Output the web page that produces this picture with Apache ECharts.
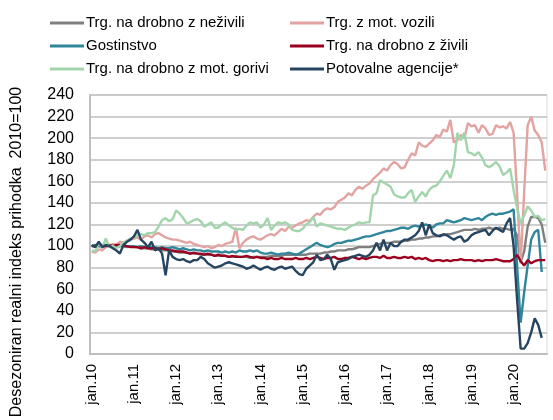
<!DOCTYPE html>
<html>
<head>
<meta charset="utf-8">
<script src="https://cdn.jsdelivr.net/npm/echarts@6/dist/echarts.min.js"></script>
<style>
  body { margin: 0; background: #fff; }
  #main { width: 553px; height: 420px; }
</style>
</head>
<body>
<div id="main"></div>
<script>
// mesecni podatki jan.2010 - okt.2020
const monthNames = ['jan', 'feb', 'mar', 'apr', 'maj', 'jun', 'jul', 'avg', 'sep', 'okt', 'nov', 'dec'];
const years = ['10', '11', '12', '13', '14', '15', '16', '17', '18', '19', '20'];

const nezivili = [
  100, 100, 100, 101, 100, 100, 100, 99, 100, 100, 99, 100,
  99, 99, 98, 98, 98, 97, 97, 97, 96, 96, 96, 95,
  95, 94, 94, 94, 93, 93, 93, 92, 92, 92, 92, 91,
  91, 91, 91, 90, 90, 91, 90, 90, 90, 89, 90, 90,
  90, 90, 90, 91, 91, 91, 91, 92, 92, 92, 92, 92,
  92, 92, 93, 93, 93, 93, 94, 94, 95, 95, 96, 96,
  96, 97, 97, 98, 99, 99, 99, 99, 100, 101, 102, 103,
  103, 103, 104, 104, 104, 105, 105, 106, 106, 107, 107, 108,
  108, 109, 109, 110, 110, 111, 111, 112, 113, 114, 115, 115,
  115, 116, 115, 116, 116, 117, 116, 116, 117, 116, 116, 115,
  116, 110, 85, 95, 118, 127, 127, 126, 120, 103
];
const vozila = [
  95, 94, 97, 96, 99, 100, 102, 101, 104, 103, 105, 106,
  107, 108, 106, 109, 110, 108, 111, 112, 110, 108, 107, 106,
  106, 105, 104, 103, 104, 102, 101, 100, 99, 100, 98, 99,
  101, 100, 102, 103, 104, 117, 98, 103, 106, 108, 109, 107,
  106, 108, 110, 111, 110, 113, 116, 114, 118, 117, 119, 121,
  122, 124, 123, 127, 130, 129, 133, 135, 134, 136, 141, 143,
  145, 149, 147, 152, 155, 153, 156, 158, 162, 165, 168, 172,
  170, 175, 178, 176, 172, 173, 180, 186, 184, 196, 193, 192,
  195, 198, 203, 201, 208, 206, 217, 196, 198, 203, 200, 214,
  211, 212, 205, 212, 209, 203, 204, 212, 210, 211, 209, 215,
  205, 148, 84, 150, 212, 220, 207, 203, 196, 170
];
const gostinstvo = [
  100, 101, 100, 99, 101, 100, 100, 99, 100, 101, 100, 100,
  100, 99, 100, 99, 100, 99, 99, 98, 99, 98, 98, 99,
  98, 97, 98, 97, 96, 97, 96, 96, 95, 96, 95, 95,
  95, 94, 95, 94, 95, 94, 96, 95, 95, 96, 95, 96,
  94, 93, 93, 94, 93, 92, 93, 93, 94, 93, 92, 93,
  95, 97, 99, 101, 103, 101, 100, 99, 100, 102, 103, 103,
  104, 105, 105, 106, 107, 108, 109, 109, 110, 111, 112, 113,
  114, 114, 115, 116, 117, 117, 116, 118, 119, 118, 119, 120,
  119, 117, 120, 121, 121, 124, 123, 122, 123, 124, 126, 125,
  124, 125, 126, 124, 127, 129, 130, 129, 130, 130, 131, 132,
  134, 82, 29, 57, 82, 106, 113, 115, 76, null
];
const zivila = [
  100, 100, 101, 100, 100, 101, 100, 101, 101, 100, 100, 99,
  99, 99, 98, 99, 98, 98, 98, 97, 98, 97, 96, 96,
  95, 95, 95, 94, 93, 94, 93, 93, 92, 93, 92, 91,
  92, 91, 91, 90, 91, 90, 90, 90, 91, 90, 89, 90,
  89, 89, 88, 89, 88, 88, 89, 88, 88, 88, 89, 88,
  88, 89, 88, 89, 90, 89, 88, 89, 89, 90, 88, 88,
  89, 89, 90, 89, 88, 89, 88, 89, 90, 90, 89, 91,
  89, 89, 90, 89, 89, 90, 89, 90, 88, 89, 88, 89,
  87, 86, 87, 87, 86, 87, 86, 87, 87, 88, 87, 87,
  87, 86, 87, 86, 87, 87, 87, 88, 87, 86, 86, 86,
  88, 92, 86, 82, 87, 84, 86, 87, 87, 87
];
const goriva = [
  96, 95, 103, 98, 107, 99, 100, 98, 100, 103, 105, 107,
  108, 110, 111, 110, 112, 112, 113, 118, 124, 126, 123, 125,
  133, 130, 126, 121, 122, 124, 125, 123, 118, 120, 122, 117,
  117, 120, 122, 119, 117, 115, 116, 115, 119, 122, 121, 122,
  117, 120, 126, 115, 119, 122, 121, 122, 120, 115, 114, 114,
  116, 120, 122, 127, 118, 121, 120, 119, 118, 117, 116, 116,
  115, 117, 119, 120, 122, 121, 122, 122, 147, 149, 161, 159,
  157, 155, 148, 146, 145, 145, 149, 152, 141, 146, 150, 146,
  152, 155, 156, 160, 165, 170, 163, 175, 205, 198, 205, 187,
  186, 184, 187, 182, 175, 173, 175, 178, 174, 166, 168, 172,
  152, 135, 121, 128, 137, 133, 127, 128, 124, 125
];
const agencije = [
  101, 99, 104, 99, 101, 100, 98, 96, 93, 101, 104, 106,
  109, 115, 106, 103, 99, 104, 96, 98, 93, 73, 96, 90,
  88, 87, 88, 86, 85, 87, 87, 90, 88, 84, 82, 80,
  81, 82, 84, 85, 84, 83, 82, 81, 79, 80, 82, 80,
  78, 80, 81, 79, 78, 80, 81, 79, 80, 81, 77, 74,
  73, 79, 82, 85, 92, 87, 88, 92, 88, 78, 85, 86,
  87, 88, 90, 91, 92, 91, 90, 92, 96, 103, 96, 106,
  96, 103, 100, 100, 104, 106, 106, 108, 110, 114, 122, 110,
  120, 112, 110, 109, 111, 110, 108, 106, 108, 109, 104, 106,
  110, 112, 113, 114, 115, 110, 114, 117, 115, 113, 121, 126,
  100, 50, 5, 5, 10, 20, 33, 27, 15, null
];

let months = [];
years.forEach(y => monthNames.forEach(m => months.push(m + '.' + y)));
months = months.slice(0, nezivili.length);

const names = [
  'Trg. na drobno z neživili',
  'Trg. z mot. vozili',
  'Gostinstvo',
  'Trg. na drobno z živili',
  'Trg. na drobno z mot. gorivi',
  'Potovalne agencije*'
];
const colors = ['#7f7f7f', '#e3a3a0', '#31869b', '#9c0020', '#a2d5ab', '#264560'];
const values = [nezivili, vozila, gostinstvo, zivila, goriva, agencije];

let myChart = echarts.init(document.getElementById('main'));
const font = 'Liberation Sans, Arial, sans-serif';

const legendBase = {
  orient: 'vertical', top: 9,
  icon: 'rect', itemWidth: 34, itemHeight: 3, itemGap: 5,
  textStyle: { fontSize: 15, lineHeight: 18, color: '#000', fontFamily: font, padding: [0, 0, 0, -3] }
};

let option = {
  animation: false,
  color: colors,
  textStyle: { fontFamily: font },
  legend: [
    Object.assign({}, legendBase, { left: 45, data: [names[0], names[2], names[4]] }),
    Object.assign({}, legendBase, { left: 285, data: [names[1], names[3], names[5]] })
  ],
  grid: { left: 90, right: 6, top: 95, bottom: 66, show: true, borderColor: '#d9d9d9', borderWidth: 1 },
  xAxis: {
    type: 'category',
    data: months,
    boundaryGap: true,
    axisLine: { lineStyle: { color: '#bfbfbf', width: 2 } },
    axisTick: { show: false },
    axisLabel: {
      rotate: 90, margin: 10, fontSize: 15, color: '#000', fontFamily: font,
      interval: (idx) => idx % 12 === 0
    },
    splitLine: { show: false }
  },
  yAxis: {
    type: 'value', min: 0, max: 240, interval: 20,
    axisLine: { show: true, lineStyle: { color: '#bfbfbf', width: 2 } },
    axisTick: { show: false },
    axisLabel: { fontSize: 16, color: '#000', margin: 16, fontFamily: font },
    splitLine: { lineStyle: { color: '#bfbfbf', width: 1.5 } }
  },
  graphic: [{
    type: 'text', x: 17, y: 252, rotation: Math.PI / 2,
    style: {
      text: 'Desezoniran realni indeks prihodka  2010=100',
      fontSize: 16, fill: '#000', fontFamily: font,
      align: 'center', verticalAlign: 'middle'
    }
  }],
  series: names.map((n, k) => ({
    name: n,
    type: 'line',
    data: values[k],
    symbol: 'none',
    lineStyle: { width: 2.4, color: colors[k] },
    itemStyle: { color: colors[k] }
  }))
};

myChart.setOption(option);
</script>
</body>
</html>
